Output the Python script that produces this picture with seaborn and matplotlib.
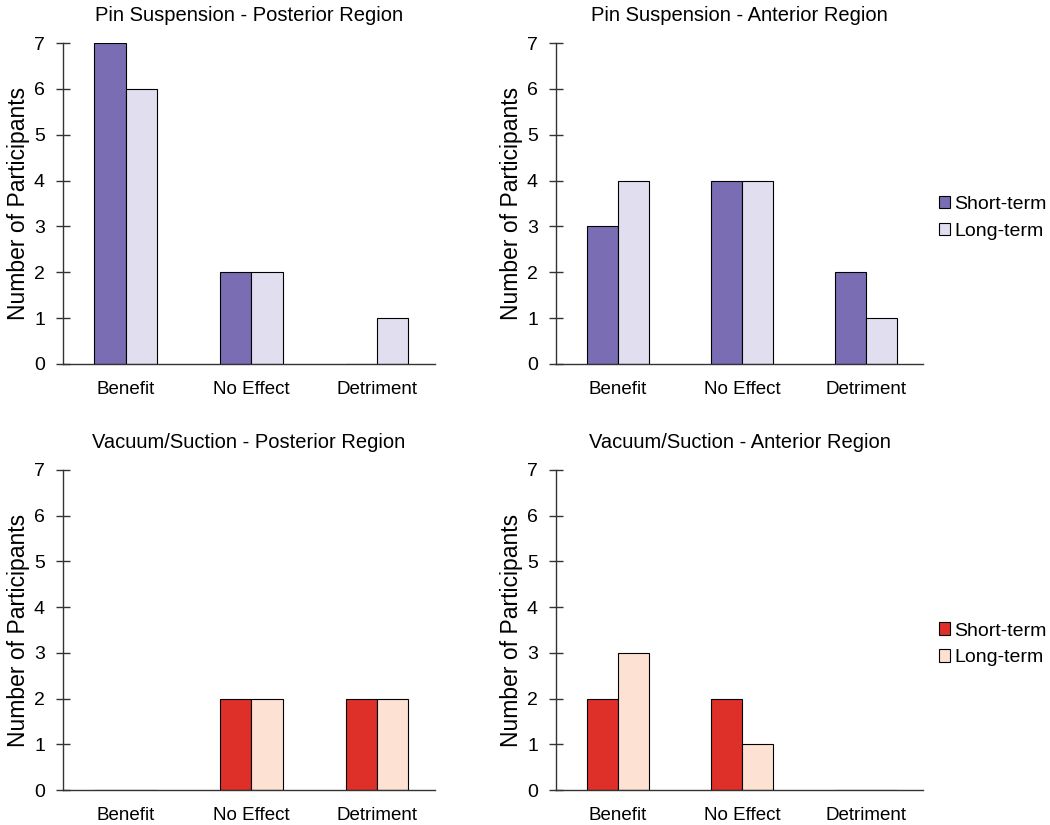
import matplotlib
matplotlib.use("Agg")
import matplotlib.pyplot as plt
import seaborn as sns
import pandas as pd
from matplotlib.patches import Patch

categories = ["Benefit", "No Effect", "Detriment"]
terms = ["Short-term", "Long-term"]

titles = [
    "Pin Suspension - Posterior Region",
    "Pin Suspension - Anterior Region",
    "Vacuum/Suction - Posterior Region",
    "Vacuum/Suction - Anterior Region",
]
pin_post_short = [7, 2, 0]
pin_post_long = [6, 2, 1]
pin_ant_short = [3, 4, 2]
pin_ant_long = [4, 4, 1]
vac_post_short = [0, 2, 2]
vac_post_long = [0, 2, 2]
vac_ant_short = [2, 2, 0]
vac_ant_long = [3, 1, 0]

pin_colors = ["#7a6db4", "#e1def0"]
vac_colors = ["#de2f29", "#fde1d3"]

sns.set_theme(style="white")
plt.rcParams["font.family"] = ["Liberation Sans", "DejaVu Sans"]
plt.rcParams["text.color"] = "black"
plt.rcParams["axes.labelcolor"] = "black"
plt.rcParams["xtick.color"] = "black"
plt.rcParams["ytick.color"] = "black"
plt.rcParams["axes.titlecolor"] = "black"

fig = plt.figure(figsize=(10.5, 8.25), dpi=100)
pos = [
    [0.060, 0.5588, 0.354, 0.389],
    [0.5295, 0.5588, 0.350, 0.389],
    [0.060, 0.0424, 0.354, 0.388],
    [0.5295, 0.0424, 0.350, 0.388],
]
series = [
    (pin_post_short, pin_post_long, pin_colors),
    (pin_ant_short, pin_ant_long, pin_colors),
    (vac_post_short, vac_post_long, vac_colors),
    (vac_ant_short, vac_ant_long, vac_colors),
]

for i, (p, (s, l, cols)) in enumerate(zip(pos, series)):
    ax = fig.add_axes(p)
    df = pd.DataFrame({
        "Outcome": categories * 2,
        "Term": [terms[0]] * 3 + [terms[1]] * 3,
        "Count": list(s) + list(l),
    })
    sns.barplot(data=df, x="Outcome", y="Count", hue="Term", order=categories,
                hue_order=terms, palette=cols, width=0.5, edgecolor="black",
                linewidth=0.8, ax=ax, legend=False, saturation=1)
    ax.set_xlim(-0.5, 2.46)
    ax.set_ylim(0, 7)
    ax.set_yticks(range(0, 8))
    ax.set_title(titles[i], fontsize=14.5, pad=16)
    ax.set_xlabel("")
    ax.set_ylabel("Number of Participants", fontsize=16.5, labelpad=3)
    for sp in ["top", "right"]:
        ax.spines[sp].set_visible(False)
    for sp in ["left", "bottom"]:
        ax.spines[sp].set_color("#333333")
        ax.spines[sp].set_linewidth(1.0)
    ax.tick_params(axis="y", direction="inout", length=10, width=1.0,
                   color="#333333", labelsize=14, pad=8, left=True)
    ax.tick_params(axis="x", length=0, labelsize=13.5, pad=12)
    if i in (1, 3):
        handles = [Patch(facecolor=cols[0], edgecolor="black", linewidth=0.8, label=terms[0]),
                   Patch(facecolor=cols[1], edgecolor="black", linewidth=0.8, label=terms[1])]
        ax.legend(handles=handles, loc="center left", bbox_to_anchor=(1.02, 0.455),
                  frameon=False, fontsize=14, handlelength=0.6, handleheight=0.6,
                  handletextpad=0.2, labelspacing=0.5, borderaxespad=0)

fig.savefig("out.png", dpi=100)
